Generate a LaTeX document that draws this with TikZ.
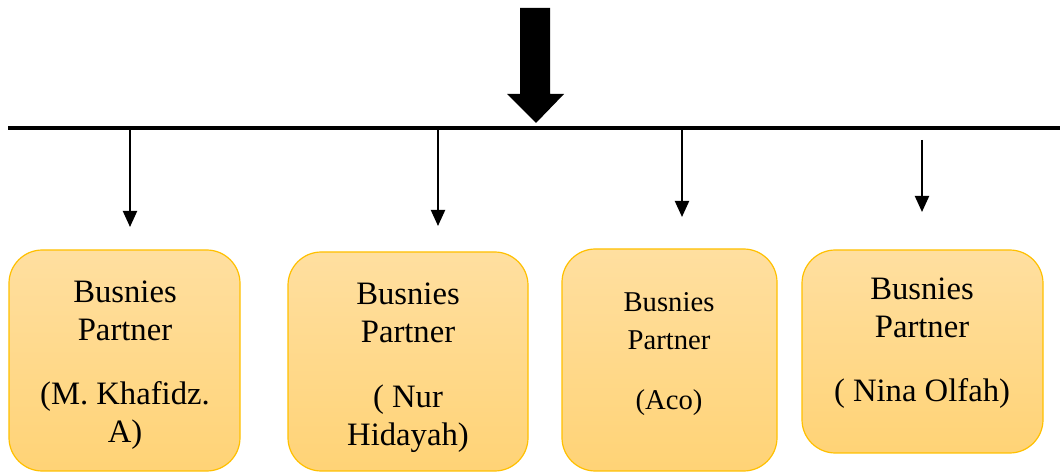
\documentclass[tikz,border=0pt]{standalone}
\usepackage{fontspec}
\setmainfont{Liberation Serif}
\usetikzlibrary{arrows.meta}

\definecolor{boxtop}{RGB}{255,223,160}
\definecolor{boxbot}{RGB}{255,211,118}
\definecolor{boxline}{RGB}{255,192,0}

\tikzset{
  pbox/.style={draw=boxline, line width=.9pt, rounded corners=25pt,
    top color=boxtop, bottom color=boxbot, inner sep=0pt},
  ptext/.style={align=center, inner sep=0pt, font=\fontsize{24.5}{28.5}\selectfont},
  parrow/.style={line width=1.5pt, -{Triangle[width=10.5pt,length=12pt]}}
}

\begin{document}
\begin{tikzpicture}[x=.75pt, y=-.75pt]
            \useasboundingbox (0, 0) rectangle (1060, 473);

            % big arrow onto the bar
            \fill[black] (520, 8) -- (550, 8) -- (550, 94) -- (564, 94) -- (536, 123)
                -- (507, 94) -- (520, 94) -- cycle;

            \coordinate (barwest) at (8, 128);
            \coordinate (bareast) at (1060, 128);
            \draw[line width=3pt] (barwest) -- (bareast);

            % boxes
            \node[pbox, minimum width=173.25pt, minimum height=165.75pt] (p1) at (124.5, 360.5) {};
            \node[pbox, minimum width=180pt, minimum height=164.25pt] (p2) at (408, 361.5) {};
            \node[pbox, minimum width=161.25pt, minimum height=166.5pt] (p3) at (669.5, 360) {};
            \node[pbox, minimum width=180.75pt, minimum height=152.25pt] (p4) at (922.5, 351.5) {};

            \node[ptext] (t1) at (125, 365) {Busnies\\Partner\\[20pt](M. Khafidz.\\A)};
            \node[ptext] (t2) at (408, 368) {Busnies\\Partner\\[20pt]( Nur\\Hidayah)};
            \node[ptext, font=\fontsize{21.5}{28.5}\selectfont] (t3) at (669, 354) {Busnies\\Partner\\[16pt](Aco)};
            \node[ptext] (t4) at (922, 343) {Busnies\\Partner\\[20pt]( Nina Olfah)};

            % arrows from the bar
            \coordinate (a1) at (130, 130);
            \coordinate (b1) at (130, 227);
            \coordinate (a2) at (438, 130);
            \coordinate (b2) at (438, 226);
            \coordinate (a3) at (682, 130);
            \coordinate (b3) at (682, 217);
            \coordinate (a4) at (922, 140);
            \coordinate (b4) at (922, 212);
            \draw[parrow] (a1) -- (b1);
            \draw[parrow] (a2) -- (b2);
            \draw[parrow] (a3) -- (b3);
            \draw[parrow] (a4) -- (b4);
\end{tikzpicture}
\end{document}
